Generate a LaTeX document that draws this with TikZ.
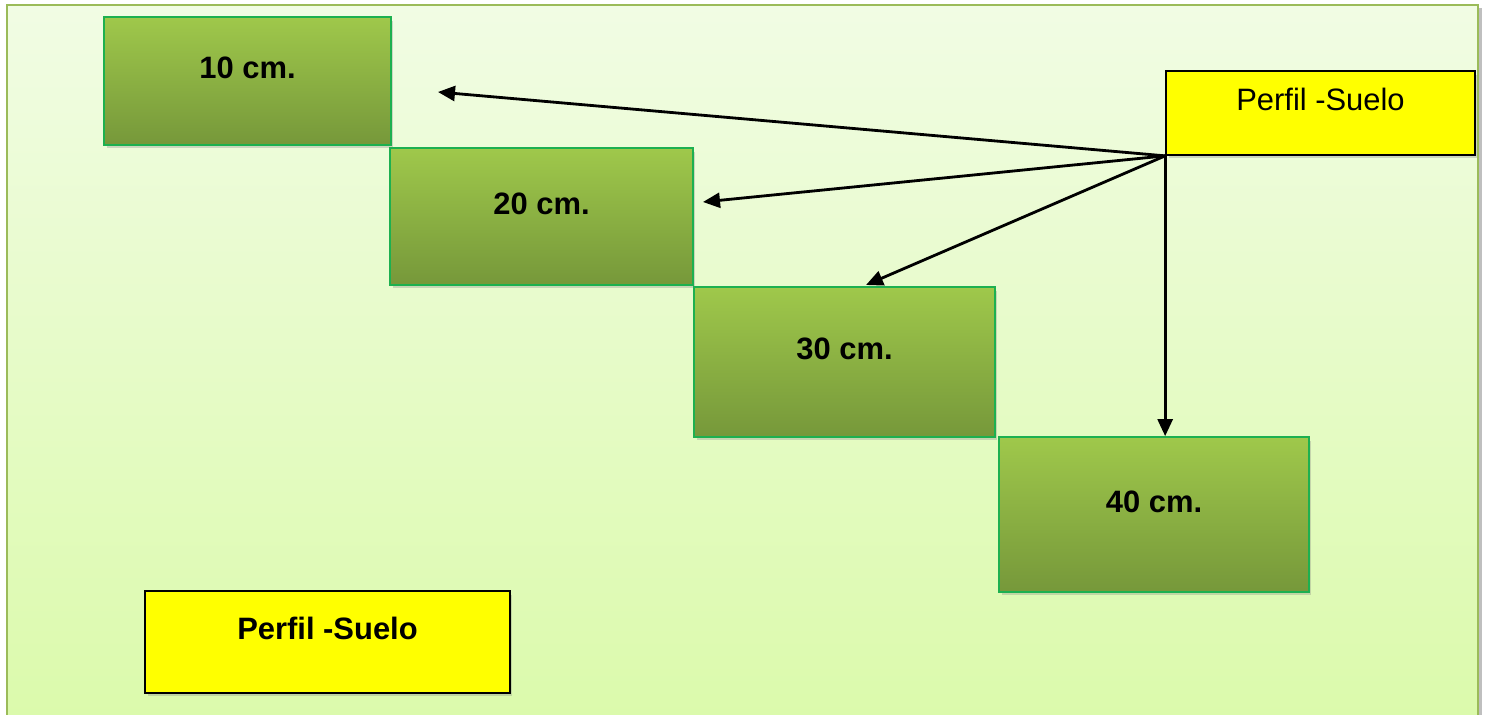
\documentclass[tikz,border=0pt]{standalone}
\usepackage{fontspec}
\setmainfont{Liberation Sans}
\usetikzlibrary{positioning, arrows.meta, shadows}
\definecolor{bgtop}{HTML}{F1FCE4}
\definecolor{bgbot}{HTML}{DBFAAB}
\definecolor{frameline}{HTML}{9BBB59}
\definecolor{grtop}{HTML}{9FC84B}
\definecolor{grbot}{HTML}{76983A}
\definecolor{grline}{HTML}{1DB050}
\definecolor{tagfill}{HTML}{FFFF00}
\tikzset{
  layer/.style={draw=grline, line width=1pt, top color=grtop, bottom color=grbot, inner sep=0pt,
    text height=0.45cm, text depth=0.53cm, font=\fontsize{17.6}{21}\selectfont\bfseries,
    drop shadow={shadow xshift=0.05cm, shadow yshift=-0.07cm, opacity=0.3}},
  tag/.style={draw=black, line width=1pt, fill=tagfill, inner sep=0pt,
    text height=0.45cm, text depth=0.53cm, font=\fontsize{17.6}{21}\selectfont,
    drop shadow={shadow xshift=0.05cm, shadow yshift=-0.07cm, opacity=0.3}},
  arr/.style={-{Triangle[length=3.4mm, width=3mm]}, line width=1.6pt}
}
\begin{document}
\begin{tikzpicture}[x=0.02cm, y=-0.02cm]
\useasboundingbox (0,0) rectangle (1485,715);
% page frame
\fill[black!25] (9,8) rectangle (1482,730);
\shade[top color=bgtop, bottom color=bgbot, draw=frameline, line width=1.2pt] (7,5) rectangle (1478,725);
% depth boxes
\node[layer, minimum width=5.74cm, minimum height=2.56cm] (b10) at (247.5,81) {10 cm.};
\node[layer, minimum width=6.06cm, minimum height=2.74cm] (b20) at (541.5,216.5) {20 cm.};
\node[layer, minimum width=6.02cm, minimum height=3.0cm] (b30) at (844.5,362) {30 cm.};
\node[layer, minimum width=6.2cm, minimum height=3.1cm] (b40) at (1154,514.5) {40 cm.};
% labels
\node[tag, minimum width=6.18cm, minimum height=1.68cm] (top) at (1320.5,113) {Perfil -Suelo};
\node[tag, minimum width=7.3cm, minimum height=2.04cm, font=\fontsize{17.6}{21}\selectfont\bfseries] (bot) at (327.5,642) {Perfil -Suelo};
% arrows
\coordinate (t10) at (438,92);
\coordinate (t20) at (703,202);
\coordinate (t30) at (866,285);
\draw[arr] (top.south west) -- (t10);
\draw[arr] (top.south west) -- (t20);
\draw[arr] (top.south west) -- (t30);
\draw[arr] (top.south west) -- (top.south west |- b40.north);
\end{tikzpicture}
\end{document}
